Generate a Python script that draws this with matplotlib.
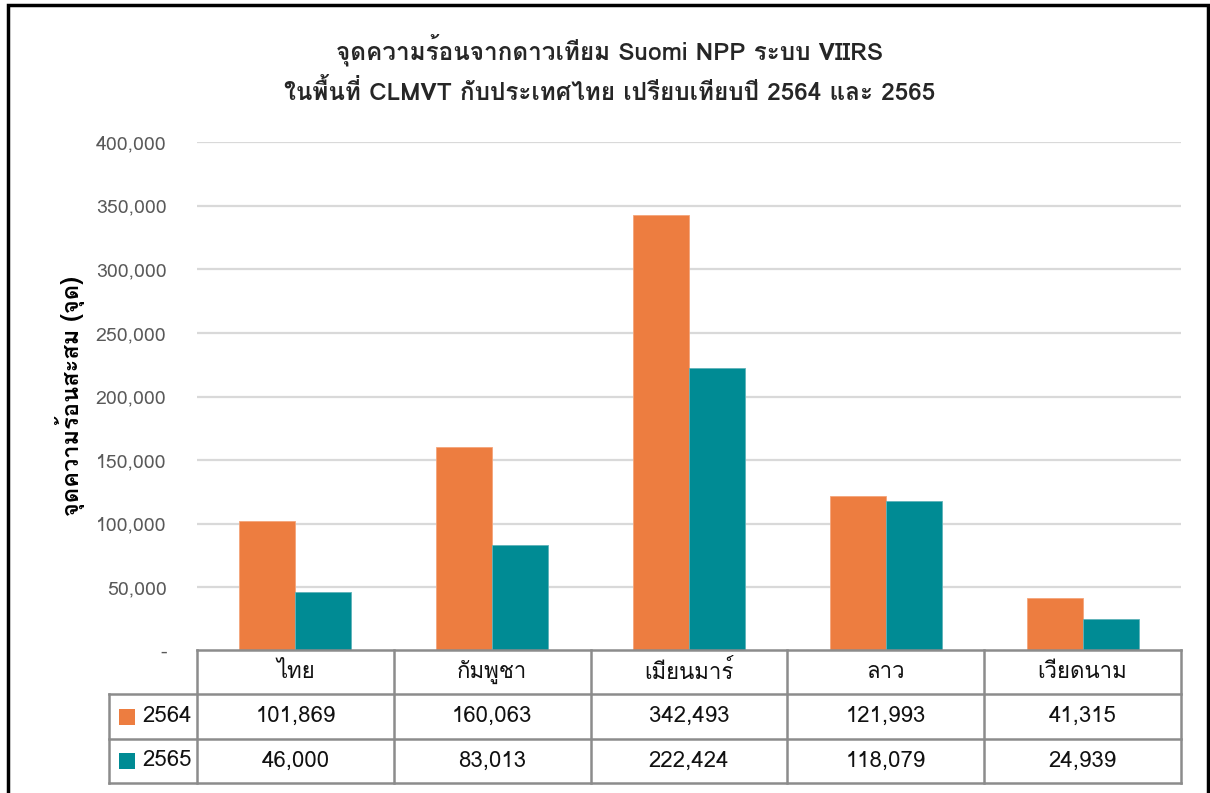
import numpy as np
import matplotlib
matplotlib.use('Agg')
import matplotlib.pyplot as plt
from matplotlib import font_manager
from matplotlib.patches import Rectangle

# หาฟอนต์ที่มีอักษรไทย
def find_thai_font():
    try:
        from fontTools.ttLib import TTFont
    except Exception:
        return None
    seen = set()
    for f in font_manager.fontManager.ttflist:
        if f.name in seen:
            continue
        seen.add(f.name)
        try:
            tt = TTFont(f.fname, fontNumber=0, lazy=True)
            cmap = tt.getBestCmap()
            if cmap and 0x0E01 in cmap and 0x0E2A in cmap:
                return f.name
        except Exception:
            pass
    return None

thai = find_thai_font()
fams = [thai, 'DejaVu Sans'] if thai else ['DejaVu Sans']
plt.rcParams['font.family'] = fams

# ข้อมูล
countries = ['ไทย', 'กัมพูชา', 'เมียนมาร์', 'ลาว', 'เวียดนาม']
years = ['2564', '2565']
v2564 = [101869, 160063, 342493, 121993, 41315]
v2565 = [46000, 83013, 222424, 118079, 24939]
colors = ['#ED7D40', '#008B94']

W, H = 1210, 793
fig = plt.figure(figsize=(W/100, H/100), dpi=100)

def fx(px): return px / W
def fy(py): return 1 - py / H

# กรอบดำรอบภาพ
fig.patches.append(Rectangle((fx(8), fy(H + 20)), fx(1208) - fx(8), fy(5) - fy(H + 20),
                             transform=fig.transFigure, fill=False, ec='black', lw=2.5))

x0, x1 = 197, 1181
ax = fig.add_axes([fx(x0), fy(651), fx(x1) - fx(x0), fy(142) - fy(651)])
x = np.arange(len(countries))
bw = 0.285
ax.bar(x - bw/2, v2564, bw, color=colors[0], edgecolor='#F4A57A', lw=0.6, zorder=3)
ax.bar(x + bw/2, v2565, bw, color=colors[1], edgecolor='#5FB3B9', lw=0.6, zorder=3)
ax.set_xlim(-0.5, len(countries) - 0.5)
ax.set_ylim(0, 400000)
ax.set_yticks(np.arange(0, 400001, 50000))
ax.set_yticklabels(['-'] + [f'{v:,}' for v in range(50000, 400001, 50000)])
ax.tick_params(axis='y', length=0, pad=22, labelsize=14, labelcolor='#595959')
ax.set_xticks([])
ax.grid(axis='y', color='#D9D9D9', lw=1.6, zorder=0)
for s in ax.spines.values():
    s.set_visible(False)
ax.set_ylabel('จุดความร้อนสะสม (จุด)', fontsize=17, fontweight='bold')
ax.yaxis.set_label_coords((70 - x0) / (x1 - x0), 0.5)
ax.yaxis.label.set_va('center')

fig.text(fx(610), fy(50), 'จุดความร้อนจากดาวเทียม Suomi NPP ระบบ VIIRS',
         ha='center', va='center', fontsize=17.5, fontweight='bold', color='#262626')
fig.text(fx(610), fy(92), 'ในพื้นที่ CLMVT กับประเทศไทย เปรียบเทียบปี 2564 และ 2565',
         ha='center', va='center', fontsize=17.5, fontweight='bold', color='#262626')

# ตารางข้อมูลใต้กราฟ
unit = (x1 - x0) / len(countries)
lx = 109
tleft = -0.5 - (x0 - lx) / unit
tax = fig.add_axes([fx(lx), fy(783), fx(x1) - fx(lx), fy(650) - fy(783)])
tax.set_xlim(tleft, len(countries) - 0.5)
tax.set_ylim(0, 3)
tax.axis('off')
lc = '#8C8C8C'
lw = 1.8
# เส้นแนวนอน
tax.plot([-0.5, 4.5], [3, 3], color=lc, lw=lw, clip_on=False)
for yy in [2, 1, 0]:
    tax.plot([tleft, 4.5], [yy, yy], color=lc, lw=lw, clip_on=False)
# เส้นแนวตั้ง
tax.plot([tleft, tleft], [0, 2], color=lc, lw=lw, clip_on=False)
for xx in np.arange(-0.5, 4.6, 1.0):
    tax.plot([xx, xx], [0, 3], color=lc, lw=lw, clip_on=False)

tc = '#111111'
fs = 16
for i, c in enumerate(countries):
    tax.text(i, 2.5, c, ha='center', va='center', fontsize=fs, color=tc)
    tax.text(i, 1.5, f'{v2564[i]:,}', ha='center', va='center', fontsize=fs, color=tc)
    tax.text(i, 0.5, f'{v2565[i]:,}', ha='center', va='center', fontsize=fs, color=tc)

sq = 16 / unit
for j, (yr, col) in enumerate(zip(years, colors)):
    yc = 1.5 - j
    tax.add_patch(Rectangle((tleft + 10 / unit, yc - 0.19), sq, 0.37, color=col, lw=0))
    tax.text(tleft + 33 / unit, yc, yr, ha='left', va='center', fontsize=fs, color=tc)

fig.savefig('out.png', dpi=100)
